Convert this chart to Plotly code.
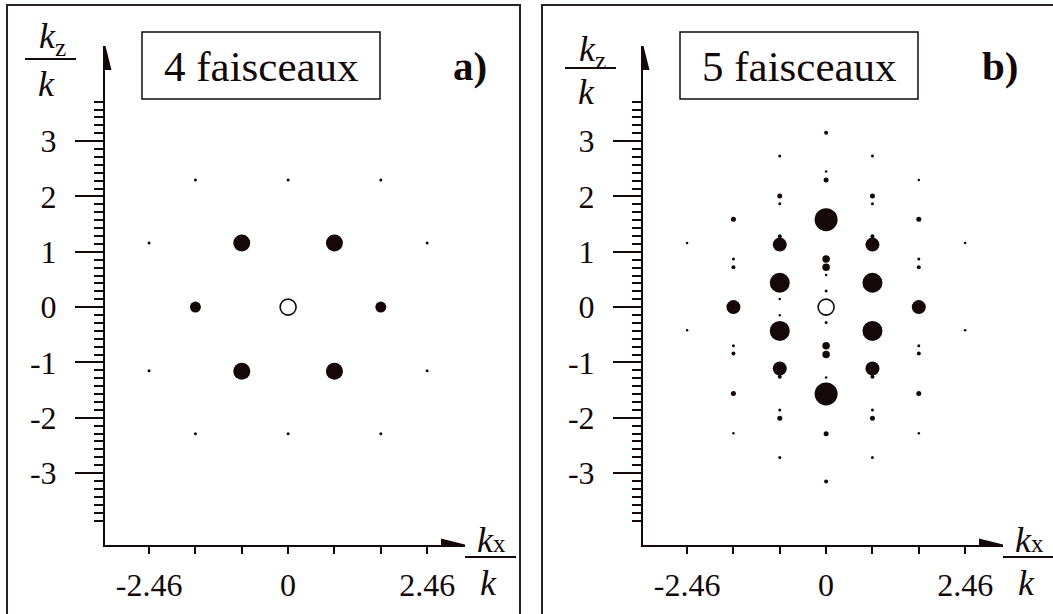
import plotly.graph_objects as go

W, H = 1053, 614
INK = "#140808"
SERIF = "Liberation Serif"

# ---------------- data (units of k) ----------------
x_tick_vals = [-2.46, -1.64, -0.82, 0, 0.82, 1.64, 2.46]
x_tick_text = ["-2.46", "", "", "0", "", "", "2.46"]
y_tick_vals = [-3, -2, -1, 0, 1, 2, 3]
y_tick_text = ["-3", "-2", "-1", "0", "1", "2", "3"]
y_minor_vals = [k / 7 for k in range(-27, 27)]

# panel a : 4 beams
a_kx = [-0.82, 0.82, -0.82, 0.82,
        -1.64, 1.64,
        -1.64, 0, 1.64, -1.64, 0, 1.64,
        -2.46, 2.46, -2.46, 2.46]
a_kz = [1.16, 1.16, -1.16, -1.16,
        0, 0,
        2.30, 2.30, 2.30, -2.29, -2.29, -2.29,
        1.16, 1.16, -1.15, -1.15]
a_level = ["la"] * 4 + ["ma"] * 2 + ["t"] * 6 + ["t"] * 4

# panel b : 5 beams
b_kx = [0, 0, 0, 0, 0, 0, 0, 0, 0, 0, 0, 0, 0, 0, 0,
        -0.82, 0.82, -0.82, 0.82, -0.82, 0.82, -0.82, 0.82, -0.82, 0.82,
        -0.82, 0.82, -0.82, -0.82, -0.82, 0.82, -0.82, 0.82, -0.82, 0.82,
        -0.82, 0.82, -0.82, 0.82, -0.82, 0.82,
        1.64, -1.64, 1.64, -1.64, 1.64, -1.64, 1.64, -1.64, 1.64,
        -1.64, 1.64, -1.64, 1.64, -1.64, 1.64, -1.64, 1.64,
        -2.46, 2.46, -2.46, 2.46]
b_kz = [3.15, 2.45, 2.30, 1.58, 0.87, 0.72, 0.58, 0.29, -0.28, -0.70, -0.855, -1.27, -1.57, -2.29, -3.15,
        2.73, 2.73, 2.01, 2.01, 1.87, 1.87, 1.13, 1.13, 1.28, 1.28,
        0.44, 0.44, 0.145, -0.145, -0.43, -0.43, -1.11, -1.11, -1.26, -1.26,
        -1.86, -1.86, -2.01, -2.01, -2.72, -2.72,
        2.30, 1.59, 1.59, 0.87, 0.87, 0.72, 0.72, 0, 0,
        -0.70, -0.70, -0.84, -0.84, -1.56, -1.56, -2.28, -2.28,
        1.16, 1.16, -0.42, -0.42]
b_level = ["xs4", "tt", "xs", "xl", "s", "s", "tt", "t", "t", "s", "s", "tt", "xl", "xs", "xs4",
           "t", "t", "xs", "xs", "t", "t", "m", "m", "xs4", "xs4",
           "l", "l", "tt", "tt", "l", "l", "m", "m", "xs4", "xs4",
           "t", "t", "xs", "xs", "t", "t",
           "tt", "xs", "xs", "t", "t", "xs4", "xs4", "m", "m",
           "t", "t", "xs4", "xs4", "xs", "xs", "tt", "tt",
           "tt", "tt", "tt", "tt"]

origin_kx = [0]
origin_kz = [0]

# ---------------- styles ----------------
LEVEL_SIZE = {"xl": 23, "l": 20, "la": 17, "m": 14, "ma": 11, "s": 7.5,
              "xs": 5, "xs4": 4, "t": 3, "tt": 2.5}
OPEN_SIZE = 16

X_LO, X_HI = -3.24, 3.13
Y_LO, Y_HI = -4.30, 4.72


def px(x):
    return x / W


def py(y):
    return 1 - y / H


fig = go.Figure()

panels = [
    dict(xa="x", ya="y", kx=a_kx, kz=a_kz, lev=a_level, dx=0),
    dict(xa="x2", ya="y2", kx=b_kx, kz=b_kz, lev=b_level, dx=538),
]

for p in panels:
    fig.add_trace(go.Scatter(
        x=p["kx"], y=p["kz"], mode="markers", xaxis=p["xa"], yaxis=p["ya"],
        marker=dict(size=[LEVEL_SIZE[l] for l in p["lev"]], color=INK, opacity=1,
                    line=dict(width=0)),
        hoverinfo="skip", showlegend=False, cliponaxis=False))
    fig.add_trace(go.Scatter(
        x=origin_kx, y=origin_kz, mode="markers", xaxis=p["xa"], yaxis=p["ya"],
        marker=dict(size=OPEN_SIZE, color="white", opacity=1,
                    line=dict(width=1.6, color=INK)),
        hoverinfo="skip", showlegend=False, cliponaxis=False))

common_x = dict(range=[X_LO, X_HI], showline=True, linewidth=2, linecolor=INK,
                ticks="outside", ticklen=7, tickwidth=2, tickcolor=INK,
                tickmode="array", tickvals=x_tick_vals, ticktext=x_tick_text,
                tickfont=dict(family=SERIF, size=32, color=INK),
                ticklabelstandoff=4, showgrid=False, zeroline=False, fixedrange=True,
                automargin=False)
common_y = dict(range=[Y_LO, Y_HI], showline=True, linewidth=2, linecolor=INK,
                ticks="outside", ticklen=28, tickwidth=2, tickcolor=INK,
                tickmode="array", tickvals=y_tick_vals, ticktext=y_tick_text,
                tickfont=dict(family=SERIF, size=32, color=INK),
                ticklabelstandoff=12, showgrid=False, zeroline=False, fixedrange=True,
                automargin=False,
                minor=dict(tickmode="array", tickvals=y_minor_vals, ticks="outside",
                           ticklen=9, tickwidth=2, tickcolor=INK, showgrid=False))

ydom = [py(545), py(46)]
fig.update_layout(
    template="none",
    width=W, height=H, margin=dict(l=0, r=0, t=0, b=0, pad=0), autosize=False,
    paper_bgcolor="white", plot_bgcolor="white", showlegend=False,
    xaxis=dict(domain=[px(105), px(465)], anchor="y", **common_x),
    yaxis=dict(domain=ydom, anchor="x", **common_y),
    xaxis2=dict(domain=[px(643), px(1003)], anchor="y2", **common_x),
    yaxis2=dict(domain=ydom, anchor="x2", **common_y),
)

shapes = []
annotations = []

# outer frames
shapes.append(dict(type="rect", xref="paper", yref="paper", x0=px(7), x1=px(520),
                   y0=py(5), y1=py(640), line=dict(color="#2a2222", width=2)))
shapes.append(dict(type="rect", xref="paper", yref="paper", x0=px(542), x1=px(1070),
                   y0=py(5), y1=py(640), line=dict(color="#2a2222", width=2)))

titles = [("4 faisceaux", "a)"), ("5 faisceaux", "b)")]
ylab_y = [(38, 59, 84), (51, 68, 92)]
letter_x = [470, 1000]

for i, p in enumerate(panels):
    dx = p["dx"]
    xa, ya = p["xa"], p["ya"]
    # arrowheads
    shapes.append(dict(type="path", xref=xa, yref=ya, xsizemode="pixel", ysizemode="pixel",
                       xanchor=X_LO, yanchor=Y_HI, path="M0,2 L-6.5,-24 L6.5,-24 Z",
                       fillcolor=INK, line=dict(width=0)))
    shapes.append(dict(type="path", xref=xa, yref=ya, xsizemode="pixel", ysizemode="pixel",
                       xanchor=X_HI, yanchor=Y_LO, path="M2,0 L-24,6.5 L-24,-6.5 Z",
                       fillcolor=INK, line=dict(width=0)))
    # bold zero ticks
    shapes.append(dict(type="line", xref=xa, yref=ya, ysizemode="pixel", yanchor=Y_LO,
                       x0=0, x1=0, y0=0, y1=-22, line=dict(color=INK, width=4)))
    shapes.append(dict(type="line", xref=xa, yref=ya, xsizemode="pixel", xanchor=X_LO,
                       y0=0, y1=0, x0=0, x1=-28, line=dict(color=INK, width=4)))
    # title box
    shapes.append(dict(type="rect", xref="paper", yref="paper", x0=px(142 + dx), x1=px(380 + dx),
                       y0=py(32), y1=py(99), line=dict(color=INK, width=1.5)))
    annotations.append(dict(x=px(261 + dx), y=py(66), xref="paper", yref="paper",
                            text=titles[i][0], showarrow=False, xanchor="center", yanchor="middle",
                            font=dict(family=SERIF, size=43, color=INK)))
    annotations.append(dict(x=px(letter_x[i]), y=py(66), xref="paper", yref="paper",
                            text="<b>" + titles[i][1] + "</b>", showarrow=False,
                            xanchor="center", yanchor="middle",
                            font=dict(family=SERIF, size=41, color=INK)))
    # y label fraction
    ny, ly, dy = ylab_y[i]
    yl_x = 50 if i == 0 else 590
    shapes.append(dict(type="line", xref="paper", yref="paper", x0=px(yl_x - 25), x1=px(yl_x + 26),
                       y0=py(ly), y1=py(ly), line=dict(color=INK, width=2)))
    annotations.append(dict(x=px(yl_x + 2), y=py(ny), xref="paper", yref="paper",
                            text="<i>k</i><sub>z</sub>", showarrow=False,
                            xanchor="center", yanchor="middle",
                            font=dict(family=SERIF, size=36, color=INK)))
    annotations.append(dict(x=px(yl_x - 4), y=py(dy), xref="paper", yref="paper",
                            text="<i>k</i>", showarrow=False,
                            xanchor="center", yanchor="middle",
                            font=dict(family=SERIF, size=36, color=INK)))
    # x label fraction
    xl_x = 490 + dx
    shapes.append(dict(type="line", xref="paper", yref="paper", x0=px(xl_x - 25), x1=px(xl_x + 26),
                       y0=py(557), y1=py(557), line=dict(color=INK, width=2)))
    annotations.append(dict(x=px(xl_x + 1), y=py(540), xref="paper", yref="paper",
                            text="<i>k</i><span style='font-size:25px'>x</span>", showarrow=False,
                            xanchor="center", yanchor="middle",
                            font=dict(family=SERIF, size=36, color=INK)))
    annotations.append(dict(x=px(xl_x - 2), y=py(583), xref="paper", yref="paper",
                            text="<i>k</i>", showarrow=False,
                            xanchor="center", yanchor="middle",
                            font=dict(family=SERIF, size=36, color=INK)))

fig.update_layout(shapes=shapes, annotations=annotations)
fig.write_html("out.html", config={"displayModeBar": False},
               post_script="document.body.style.margin='0px';document.body.style.overflow='hidden';")
